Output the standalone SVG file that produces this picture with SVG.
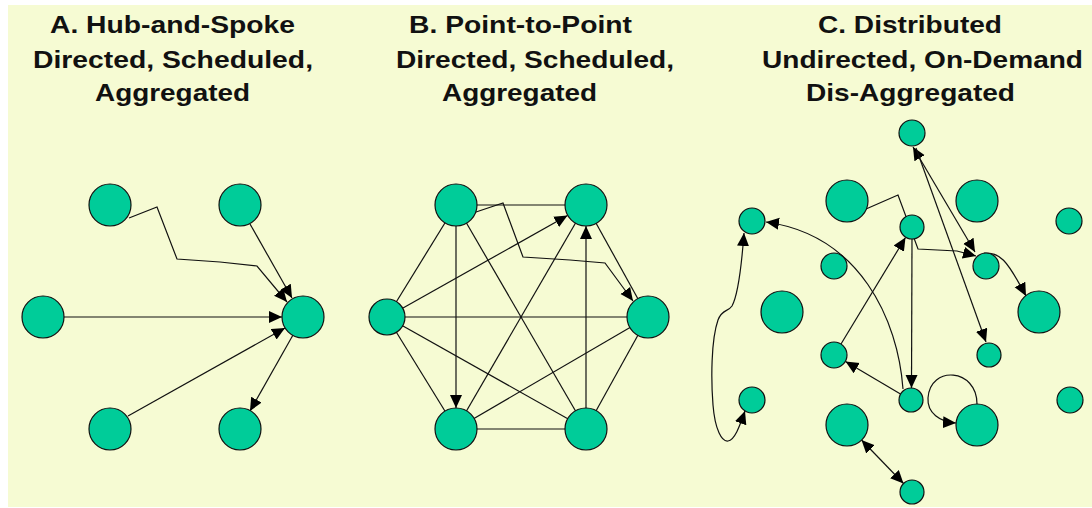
<svg xmlns="http://www.w3.org/2000/svg" width="1092" height="508" viewBox="0 0 1092 508">
  <defs>
    <marker id="arrow" markerUnits="userSpaceOnUse" markerWidth="14" markerHeight="13" refX="13" refY="6" orient="auto-start-reverse">
      <path d="M0,0 L13,6 L0,12 Z" fill="#000"/>
    </marker>
    <style>
      .title { font-family: "Liberation Sans", Arial, sans-serif; font-weight: bold; font-size: 24px; fill: #111; }
      .node { fill: #00CC99; stroke: #111; stroke-width: 1.2; }
      .edge { fill: none; stroke: #111; stroke-width: 1.2; }
      .arr { marker-end: url(#arrow); }
      .arr2 { marker-start: url(#arrow); marker-end: url(#arrow); }
    </style>
  </defs>

  <!-- background panel -->
  <rect x="0" y="0" width="1092" height="508" fill="#fff"/>
  <rect x="8" y="5" width="1084" height="502" fill="#F6FBD3"/>

  <!-- titles -->
  <g id="titles">
    <text class="title" x="50" y="33" textLength="245" lengthAdjust="spacingAndGlyphs">A. Hub-and-Spoke</text>
    <text class="title" x="33" y="68" textLength="280" lengthAdjust="spacingAndGlyphs">Directed, Scheduled,</text>
    <text class="title" x="95" y="101" textLength="155" lengthAdjust="spacingAndGlyphs">Aggregated</text>
    <text class="title" x="409" y="33" textLength="223" lengthAdjust="spacingAndGlyphs">B. Point-to-Point</text>
    <text class="title" x="396" y="68" textLength="278" lengthAdjust="spacingAndGlyphs">Directed, Scheduled,</text>
    <text class="title" x="442" y="101" textLength="155" lengthAdjust="spacingAndGlyphs">Aggregated</text>
    <text class="title" x="818" y="33" textLength="184" lengthAdjust="spacingAndGlyphs">C. Distributed</text>
    <text class="title" x="762" y="68" textLength="321" lengthAdjust="spacingAndGlyphs">Undirected, On-Demand</text>
    <text class="title" x="806" y="101" textLength="209" lengthAdjust="spacingAndGlyphs">Dis-Aggregated</text>
  </g>

  <!-- connectors -->
  <g id="connectors">
    <!-- A: hub and spoke -->
    <polyline class="edge arr" points="129,218 157,207 177,259 220,262 257,266 287,302"/>
    <line class="edge arr" x1="250" y1="224" x2="292" y2="298"/>
    <line class="edge arr" x1="64" y1="317" x2="282" y2="317"/>
    <line class="edge arr" x1="128" y1="416" x2="285" y2="328"/>
    <line class="edge arr" x1="293" y1="335" x2="250" y2="411"/>

    <!-- B: point to point (full mesh) -->
    <line class="edge" x1="456" y1="205" x2="586" y2="205"/>
    <line class="edge" x1="456" y1="205" x2="387" y2="317"/>
    <line class="edge" x1="456" y1="205" x2="586" y2="429"/>
    <line class="edge" x1="586" y1="205" x2="648" y2="317"/>
    <line class="edge" x1="586" y1="205" x2="456" y2="429"/>
    <line class="edge" x1="387" y1="317" x2="648" y2="317"/>
    <line class="edge" x1="387" y1="317" x2="456" y2="429"/>
    <line class="edge" x1="387" y1="317" x2="586" y2="429"/>
    <line class="edge" x1="648" y1="317" x2="456" y2="429"/>
    <line class="edge" x1="648" y1="317" x2="586" y2="429"/>
    <line class="edge" x1="456" y1="429" x2="586" y2="429"/>
    <line class="edge arr" x1="456" y1="226" x2="456" y2="408"/>
    <line class="edge arr" x1="586" y1="408" x2="586" y2="226"/>
    <line class="edge arr" x1="403" y1="308" x2="567.5" y2="215.5"/>
    <polyline class="edge arr" points="473,213 503,203 523,257 570,260 605,263 633,301"/>

    <!-- C: distributed -->
    <polyline class="edge arr" points="866,209 898,195 918,249 957,251 976,256"/>
    <line class="edge arr2" x1="913" y1="147" x2="975" y2="252"/>
    <line class="edge arr" x1="916" y1="148" x2="986" y2="342"/>
    <path class="edge arr" d="M984,253 C1000,253 1006,258 1026,296"/>
    <line class="edge arr" x1="841" y1="344" x2="905.5" y2="237.5"/>
    <line class="edge arr" x1="912" y1="239" x2="911.5" y2="388"/>
    <line class="edge arr" x1="900.5" y1="394" x2="845.5" y2="361.5"/>
    <path class="edge arr" d="M903,389 C898,320 860,235 766,222"/>
    <path class="edge arr2" d="M744,233 C742,260 738,295 732,306 C728,312 722,309 718,320 C711,340 711,380 713,405 C715,430 722,442 728,441 C735,440 740,425 745,411"/>
    <path class="edge arr" d="M977,404 C977,368 930,365 928,398 C927,413 940,422 956,423"/>
    <line class="edge arr2" x1="861.5" y1="440" x2="903.5" y2="483.5"/>
  </g>

  <!-- A nodes -->
  <g id="a-top-left"><circle class="node" cx="110" cy="205" r="21"/></g>
  <g id="a-top-right"><circle class="node" cx="240" cy="205" r="21"/></g>
  <g id="a-left"><circle class="node" cx="43" cy="317" r="21"/></g>
  <g id="a-hub"><circle class="node" cx="303" cy="317" r="21"/></g>
  <g id="a-bottom-left"><circle class="node" cx="110" cy="429" r="21"/></g>
  <g id="a-bottom-right"><circle class="node" cx="240" cy="429" r="21"/></g>

  <!-- B nodes -->
  <g id="b-top-left"><circle class="node" cx="456" cy="205" r="21"/></g>
  <g id="b-top-right"><circle class="node" cx="586" cy="205" r="21"/></g>
  <g id="b-left"><circle class="node" cx="387" cy="317" r="18"/></g>
  <g id="b-right"><circle class="node" cx="648" cy="317" r="21"/></g>
  <g id="b-bottom-left"><circle class="node" cx="456" cy="429" r="21"/></g>
  <g id="b-bottom-right"><circle class="node" cx="586" cy="429" r="21"/></g>

  <!-- C nodes -->
  <g id="c-n1"><circle class="node" cx="912" cy="133" r="13"/></g>
  <g id="c-n2"><circle class="node" cx="847" cy="201" r="21"/></g>
  <g id="c-n3"><circle class="node" cx="977" cy="201" r="21"/></g>
  <g id="c-n4"><circle class="node" cx="1069" cy="221" r="13"/></g>
  <g id="c-n5"><circle class="node" cx="752" cy="221" r="13"/></g>
  <g id="c-n6"><circle class="node" cx="912" cy="227" r="12"/></g>
  <g id="c-n7"><circle class="node" cx="834" cy="266" r="13"/></g>
  <g id="c-n8"><circle class="node" cx="986" cy="266" r="13"/></g>
  <g id="c-n9"><circle class="node" cx="782" cy="312" r="21"/></g>
  <g id="c-n10"><circle class="node" cx="1039" cy="312" r="21"/></g>
  <g id="c-n11"><circle class="node" cx="834" cy="355" r="13"/></g>
  <g id="c-n12"><circle class="node" cx="989" cy="355" r="12"/></g>
  <g id="c-n13"><circle class="node" cx="752" cy="400" r="13"/></g>
  <g id="c-n14"><circle class="node" cx="911" cy="400" r="12"/></g>
  <g id="c-n15"><circle class="node" cx="1070" cy="400" r="13"/></g>
  <g id="c-n16"><circle class="node" cx="847" cy="425" r="21"/></g>
  <g id="c-n17"><circle class="node" cx="977" cy="425" r="21"/></g>
  <g id="c-n18"><circle class="node" cx="912" cy="492" r="12"/></g>
</svg>
